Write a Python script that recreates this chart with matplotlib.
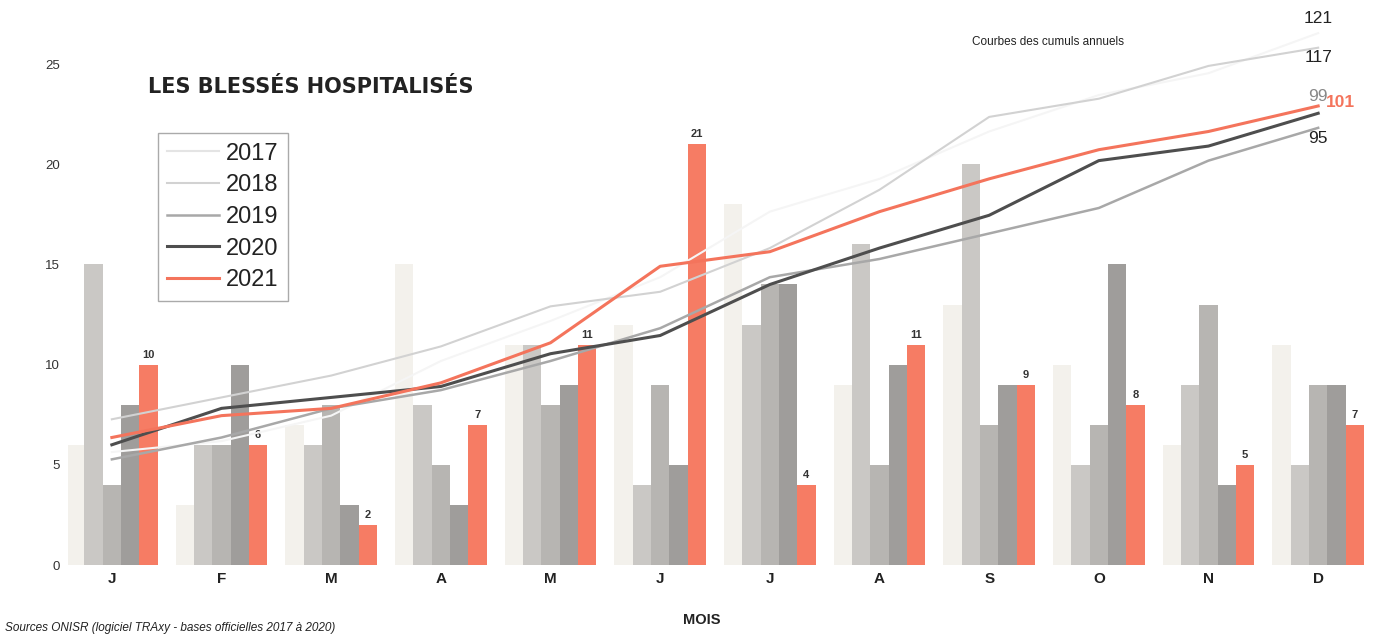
import numpy as np
import matplotlib
matplotlib.use('Agg')
import matplotlib.pyplot as plt

plt.rcParams['font.family'] = ['Liberation Sans', 'DejaVu Sans']

# Données mensuelles des blessés hospitalisés
mois = ['J', 'F', 'M', 'A', 'M', 'J', 'J', 'A', 'S', 'O', 'N', 'D']
annees = ['2017', '2018', '2019', '2020', '2021']
v2017 = [6, 3, 7, 15, 11, 12, 18, 9, 13, 10, 6, 11]
v2018 = [15, 6, 6, 8, 11, 4, 12, 16, 20, 5, 9, 5]
v2019 = [4, 6, 8, 5, 8, 9, 14, 5, 7, 7, 13, 9]
v2020 = [8, 10, 3, 3, 9, 5, 14, 10, 9, 15, 4, 9]
v2021 = [10, 6, 2, 7, 11, 21, 4, 11, 9, 8, 5, 7]

series = [v2017, v2018, v2019, v2020, v2021]
couleurs_barres = ['#f3f1ec', '#cac8c5', '#b7b5b2', '#9f9d9b', '#f67c64']
couleurs_courbes = ['#f5f5f5', '#d2d2d2', '#a8a8a8', '#4e4e4e', '#f4745c']
epaisseurs = [1.5, 1.5, 1.8, 2.2, 2.2]

fig = plt.figure(figsize=(13.73, 6.37), dpi=100)
ax = fig.add_axes([68 / 1373, 72 / 637, 1305 / 1373, 551 / 637])

x = np.arange(len(mois))
largeur = 0.167
for i, vals in enumerate(series):
    ax.bar(x + (i - 2) * largeur, vals, largeur, color=couleurs_barres[i], zorder=1)

# Etiquettes des valeurs 2021
for xi, v in zip(x, v2021):
    ax.text(xi + 2 * largeur, v + 0.25, str(v), ha='center', va='bottom',
            fontsize=8, fontweight='bold', color='#333333')

ax.set_xlim(-0.40, 11.50)
ax.set_ylim(0, 27.5)
ax.set_yticks([0, 5, 10, 15, 20, 25])
ax.set_xticks(x)
ax.set_xticklabels(mois, fontsize=11, fontweight='bold', color='#222222')
ax.tick_params(axis='y', length=0, labelsize=9.5, labelcolor='#333333', pad=6)
ax.tick_params(axis='x', length=0, pad=5)
for s in ax.spines.values():
    s.set_visible(False)

# Courbes des cumuls sur un axe secondaire masqué
ax2 = ax.twinx()
ax2.set_ylim(-25, 126.25)
ax2.set_yticks([])
for s in ax2.spines.values():
    s.set_visible(False)

decalages = [(0, 15), (0, -10), (0, -11), (0, 17), (22, 3)]
styles_etiquettes = [
    dict(color='#222222', fontweight='normal'),
    dict(color='#222222', fontweight='normal'),
    dict(color='#222222', fontweight='normal'),
    dict(color='#888888', fontweight='normal'),
    dict(color='#f4745c', fontweight='bold'),
]
lignes = []
for i, vals in enumerate(series):
    cumul = np.cumsum(vals)
    ln, = ax2.plot(x, cumul, color=couleurs_courbes[i], lw=epaisseurs[i],
                   label=annees[i], zorder=3 + i)
    lignes.append(ln)
    ax2.annotate(str(cumul[-1]), (x[-1], cumul[-1]), xytext=decalages[i],
                 textcoords='offset pixels', ha='center', va='center',
                 fontsize=12.5, **styles_etiquettes[i])

leg = ax2.legend(handles=lignes, loc='upper left', bbox_to_anchor=(0.115, 0.791),
                 bbox_transform=fig.transFigure, borderaxespad=0, fontsize=17,
                 handlelength=2.2, handletextpad=0.3, labelspacing=0.41,
                 borderpad=0.4, fancybox=False, framealpha=1)
leg.get_frame().set_edgecolor('#aaaaaa')
leg.get_frame().set_linewidth(1)
leg.set_zorder(20)
leg.legend_handles[0].set_color('#e4e4e4')
for t in leg.get_texts():
    t.set_color('#222222')

fig.text(148 / 1373, 1 - 87 / 637, 'LES BLESSÉS HOSPITALISÉS', fontsize=15,
         fontweight='bold', family='DejaVu Sans', color='#222222',
         va='center', ha='left')
fig.text(972 / 1373, 1 - 42 / 637, 'Courbes des cumuls annuels', fontsize=8.5,
         color='#222222', va='center', ha='left')
fig.text(702 / 1373, 1 - 620 / 637, 'MOIS', fontsize=10.5, fontweight='bold',
         color='#222222', ha='center', va='center')
fig.text(5 / 1373, 1 - 628 / 637,
         'Sources ONISR (logiciel TRAxy - bases officielles 2017 à 2020)',
         fontsize=8.5, style='italic', color='#222222', ha='left', va='center')

fig.savefig('out.png', dpi=100, facecolor='white')
